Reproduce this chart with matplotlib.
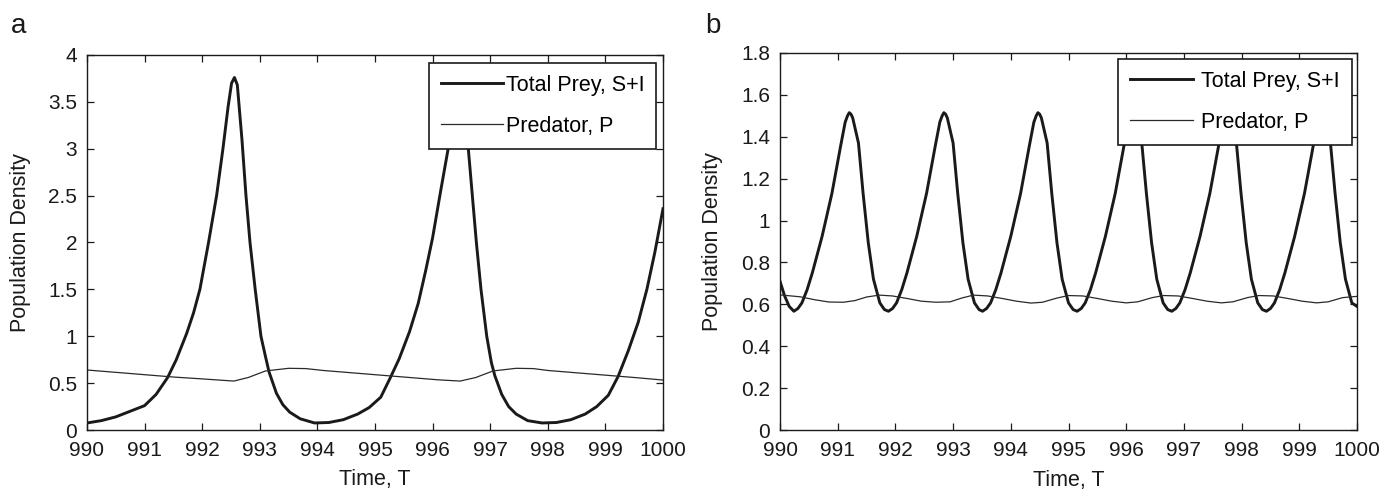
import matplotlib.pyplot as plt
from matplotlib.ticker import FormatStrFormatter

plt.rcParams["font.family"] = ["Liberation Sans", "DejaVu Sans"]

# panel a
t_prey_a = [990.00, 990.25, 990.50, 990.75, 991.00, 991.20, 991.40, 991.55, 991.73, 991.85,
            991.96, 992.11, 992.25, 992.36, 992.45, 992.51, 992.56, 992.61, 992.69, 992.76,
            992.83, 992.92, 993.02, 993.10, 993.16, 993.29, 993.40, 993.52, 993.70, 993.95,
            994.20, 994.45, 994.70, 994.90, 995.10, 995.26, 995.42, 995.60, 995.75, 995.88,
            996.00, 996.14, 996.27, 996.37, 996.43, 996.48, 996.53, 996.62, 996.69, 996.76,
            996.84, 996.94, 997.02, 997.08, 997.20, 997.32, 997.45, 997.65, 997.90, 998.15,
            998.40, 998.65, 998.85, 999.05, 999.22, 999.40, 999.57, 999.72, 999.86, 1000.00]
prey_a = [0.075, 0.10, 0.14, 0.20, 0.26, 0.38, 0.56, 0.75, 1.03, 1.25,
          1.50, 2.00, 2.50, 3.00, 3.45, 3.70, 3.76, 3.68, 3.10, 2.50,
          2.00, 1.50, 1.00, 0.78, 0.62, 0.39, 0.27, 0.19, 0.12, 0.075,
          0.08, 0.11, 0.17, 0.24, 0.35, 0.55, 0.76, 1.05, 1.35, 1.70,
          2.05, 2.55, 3.00, 3.45, 3.68, 3.76, 3.68, 3.00, 2.50, 2.00,
          1.50, 1.00, 0.72, 0.58, 0.38, 0.25, 0.17, 0.10, 0.075, 0.08,
          0.11, 0.17, 0.25, 0.37, 0.57, 0.85, 1.15, 1.50, 1.90, 2.36]

t_pred_a = [990.0, 990.5, 991.0, 991.5, 992.0, 992.55, 992.8, 993.1, 993.5, 993.8,
            994.1, 994.6, 995.1, 995.6, 996.1, 996.48, 996.75, 997.05, 997.45, 997.75,
            998.0, 998.5, 999.0, 999.5, 1000.0]
pred_a = [0.64, 0.615, 0.59, 0.565, 0.545, 0.522, 0.56, 0.63, 0.658, 0.655,
          0.635, 0.61, 0.585, 0.56, 0.535, 0.522, 0.56, 0.63, 0.658, 0.655,
          0.635, 0.61, 0.585, 0.56, 0.533]

# panel b
t_prey_b = [990.00, 990.08, 990.16, 990.24, 990.31, 990.38, 990.47, 990.56, 990.73, 990.90,
            991.05, 991.13, 991.17, 991.20, 991.23, 991.26, 991.36, 991.44, 991.53, 991.62,
            991.73, 991.81, 991.88, 991.95, 992.02, 992.11, 992.20, 992.37, 992.54, 992.69,
            992.77, 992.81, 992.84, 992.87, 992.90, 993.00, 993.08, 993.17, 993.26, 993.37,
            993.45, 993.51, 993.58, 993.65, 993.74, 993.83, 994.00, 994.17, 994.32, 994.40,
            994.44, 994.47, 994.50, 994.53, 994.63, 994.71, 994.80, 994.89, 995.00, 995.08,
            995.15, 995.22, 995.29, 995.38, 995.47, 995.64, 995.81, 995.96, 996.04, 996.08,
            996.11, 996.14, 996.17, 996.27, 996.35, 996.44, 996.53, 996.64, 996.72, 996.79,
            996.86, 996.93, 997.02, 997.11, 997.28, 997.45, 997.60, 997.68, 997.72, 997.75,
            997.78, 997.81, 997.91, 997.99, 998.08, 998.17, 998.28, 998.36, 998.43, 998.50,
            998.57, 998.66, 998.75, 998.92, 999.09, 999.24, 999.32, 999.35, 999.38, 999.41,
            999.44, 999.54, 999.62, 999.71, 999.80, 999.91, 1000.00]
prey_b = [0.71, 0.64, 0.59, 0.567, 0.58, 0.607, 0.67, 0.75, 0.925, 1.13,
          1.355, 1.47, 1.50, 1.515, 1.508, 1.49, 1.37, 1.13, 0.894, 0.72,
          0.607, 0.575, 0.567, 0.58, 0.607, 0.67, 0.75, 0.925, 1.13, 1.355,
          1.47, 1.50, 1.515, 1.508, 1.49, 1.37, 1.13, 0.894, 0.72, 0.607,
          0.575, 0.567, 0.58, 0.607, 0.67, 0.75, 0.925, 1.13, 1.355, 1.47,
          1.50, 1.515, 1.508, 1.49, 1.37, 1.13, 0.894, 0.72, 0.607, 0.575,
          0.567, 0.58, 0.607, 0.67, 0.75, 0.925, 1.13, 1.355, 1.47, 1.50,
          1.515, 1.508, 1.49, 1.37, 1.13, 0.894, 0.72, 0.607, 0.575, 0.567,
          0.58, 0.607, 0.67, 0.75, 0.925, 1.13, 1.355, 1.47, 1.50, 1.515,
          1.508, 1.49, 1.37, 1.13, 0.894, 0.72, 0.607, 0.575, 0.567, 0.58,
          0.607, 0.67, 0.75, 0.925, 1.13, 1.355, 1.47, 1.50, 1.515, 1.508,
          1.49, 1.37, 1.13, 0.894, 0.72, 0.607, 0.59]

t_pred_b = [990.00, 990.35, 990.60, 990.85, 991.10, 991.30, 991.50, 991.72, 991.95, 992.20,
            992.45, 992.70, 992.95, 993.15, 993.35, 993.60, 993.85, 994.10, 994.35, 994.55,
            994.80, 995.00, 995.25, 995.50, 995.75, 996.00, 996.20, 996.45, 996.65, 996.90,
            997.15, 997.40, 997.65, 997.85, 998.10, 998.30, 998.55, 998.80, 999.05, 999.30,
            999.50, 999.75, 1000.00]
pred_b = [0.645, 0.636, 0.622, 0.611, 0.610, 0.618, 0.635, 0.644, 0.640, 0.628,
          0.615, 0.610, 0.612, 0.630, 0.644, 0.640, 0.628, 0.615, 0.606, 0.610,
          0.630, 0.642, 0.640, 0.628, 0.615, 0.607, 0.612, 0.632, 0.642, 0.640,
          0.628, 0.615, 0.607, 0.612, 0.632, 0.642, 0.640, 0.628, 0.615, 0.607,
          0.612, 0.632, 0.638]

x_ticks = list(range(990, 1001))
y_ticks_a = [0, 0.5, 1, 1.5, 2, 2.5, 3, 3.5, 4]
y_ticks_b = [0, 0.2, 0.4, 0.6, 0.8, 1, 1.2, 1.4, 1.6, 1.8]

FS = 15.5
TICK_FS = 15


def draw_panel(ax, t_prey, prey, t_pred, pred, yticks, legend_anchor, textpad, ylab_x):
    ax.plot(t_prey, prey, color="#1a1a1a", linewidth=2.1, label="Total Prey, S+I")
    ax.plot(t_pred, pred, color="#2a2a2a", linewidth=0.9, label="Predator, P")
    ax.set_xlim(990, 1000)
    ax.set_ylim(yticks[0], yticks[-1])
    ax.set_xticks(x_ticks)
    ax.set_yticks(yticks)
    ax.yaxis.set_major_formatter(FormatStrFormatter("%g"))
    ax.tick_params(direction="in", top=True, right=True, length=5, width=0.9,
                   labelsize=TICK_FS, colors="#1a1a1a")
    ax.tick_params(axis="x", pad=8)
    ax.tick_params(axis="y", pad=7)
    for s in ax.spines.values():
        s.set_linewidth(1.0)
        s.set_color("#1a1a1a")
    ax.set_xlabel("Time, T", fontsize=FS, color="#1a1a1a")
    ax.set_ylabel("Population Density", fontsize=FS, color="#1a1a1a")
    ax.xaxis.set_label_coords(0.5, -0.105)
    ax.yaxis.set_label_coords(ylab_x, 0.5)
    leg = ax.legend(loc="upper right", bbox_to_anchor=legend_anchor, borderaxespad=0,
                    fontsize=FS, fancybox=False, framealpha=1, edgecolor="#1a1a1a",
                    handlelength=2.9, handletextpad=textpad, labelspacing=0.93,
                    borderpad=0.55)
    leg.get_frame().set_linewidth(1.2)


fig = plt.figure(figsize=(13.96, 4.94), dpi=100)
ax_a = fig.add_axes([87 / 1396, 64 / 494, 576 / 1396, 375 / 494])
ax_b = fig.add_axes([780 / 1396, 64 / 494, 577 / 1396, 377 / 494])

draw_panel(ax_a, t_prey_a, prey_a, t_pred_a, pred_a, y_ticks_a, (0.988, 0.979), 0.12, -0.097)
draw_panel(ax_b, t_prey_b, prey_b, t_pred_b, pred_b, y_ticks_b, (0.991, 0.984), 0.4, -0.098)

fig.text(11 / 1396, 1 - 33 / 494, "a", fontsize=20, color="#1a1a1a", va="baseline")
fig.text(705 / 1396, 1 - 33 / 494, "b", fontsize=20, color="#1a1a1a", va="baseline")

fig.savefig("out.png", dpi=100)
